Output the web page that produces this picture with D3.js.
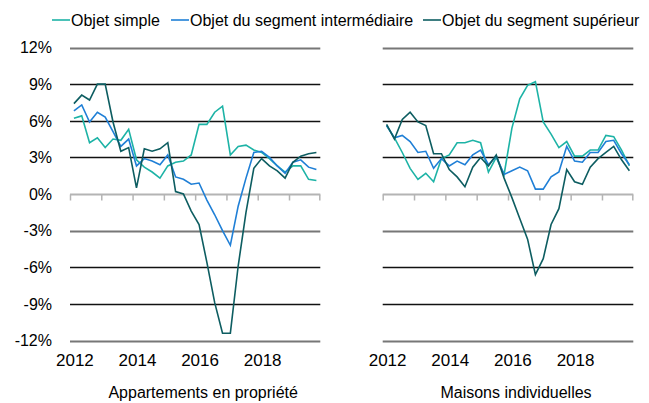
<!DOCTYPE html>
<html lang="fr">
<head>
    <meta charset="UTF-8">
    <script src="https://d3js.org/d3.v7.min.js"></script>
    <style>
        body {
            margin: 0;
            background: #ffffff;
            font-family: "Liberation Sans", Arial, sans-serif;
        }
        svg text {
            fill: #000;
        }
    </style>
</head>
<body>
    <svg width="649" height="403"></svg>

    <script>
        // donnees trimestrielles 2012 T1 - 2019 T4
        const quarters = d3.range(32);
        const yearLabels = ["2012", "2014", "2016", "2018"];
        const yTicks = [12, 9, 6, 3, 0, -3, -6, -9, -12];

        const seriesNames = ["Objet simple", "Objet du segment intermédiaire", "Objet du segment supérieur"];
        const panelTitles = ["Appartements en propriété", "Maisons individuelles"];

        const aptSimple = [6.2, 6.4, 4.2, 4.6, 3.8, 4.5, 4.4, 5.3, 2.8, 2.2, 1.8, 1.3, 2.3, 2.6, 2.7, 3.2,
                           5.7, 5.7, 6.7, 7.2, 3.2, 3.9, 4.0, 3.6, 3.4, 2.9, 2.3, 1.8, 2.3, 2.3, 1.2, 1.1];
        const aptMid = [6.8, 7.3, 5.9, 6.7, 6.3, 5.1, 3.9, 4.5, 2.3, 2.9, 2.7, 2.4, 3.2, 1.4, 1.2, 0.8,
                        0.9, -0.5, -1.7, -3.0, -4.2, -1.0, 1.3, 3.4, 3.5, 3.0, 2.3, 1.7, 2.6, 2.8, 2.2, 2.0];
        const aptHigh = [7.4, 8.1, 7.7, 9.0, 9.0, 5.9, 3.5, 3.8, 0.5, 3.7, 3.5, 3.7, 4.2, 0.2, 0.0, -1.4,
                         -2.5, -5.6, -8.9, -11.4, -11.4, -5.9, -1.5, 2.1, 2.9, 2.3, 1.9, 1.3, 2.6, 3.1, 3.3, 3.4];

        const houseSimple = [5.6, 4.6, 3.4, 2.1, 1.2, 1.7, 1.0, 2.9, 3.2, 4.2, 4.2, 4.4, 4.2, 1.8, 3.0, 1.6,
                             5.4, 7.8, 8.9, 9.2, 5.9, 4.9, 3.8, 4.3, 3.1, 3.1, 3.6, 3.6, 4.8, 4.7, 3.6, 2.3];
        const houseMid = [5.6, 4.6, 4.8, 4.3, 3.4, 3.5, 2.1, 2.9, 2.3, 2.7, 2.4, 3.2, 3.6, 2.4, 3.1, 1.6,
                          1.9, 2.2, 1.9, 0.4, 0.4, 1.4, 1.8, 3.9, 2.7, 2.6, 3.4, 3.4, 4.3, 4.4, 3.3, 2.4];
        const houseHigh = [5.7, 4.5, 6.1, 6.7, 5.9, 5.6, 3.3, 3.3, 2.0, 1.4, 0.6, 2.2, 3.0, 2.3, 3.2, 1.3,
                           -0.3, -2.0, -3.7, -6.6, -5.3, -2.5, -1.2, 2.0, 1.0, 0.8, 2.2, 2.9, 3.4, 3.9, 2.8, 1.9];

        const colors = ["#1db3a6", "#1f7fd6", "#0d5d61"];

        const svg = d3.select("svg");

        const y = d3.scaleLinear()
            .domain([-12, 12])
            .range([340.5, 47.5]);

        const panels = [
            { left: 70, right: 320.3, title: panelTitles[0], data: [aptSimple, aptMid, aptHigh] },
            { left: 382.7, right: 633.3, title: panelTitles[1], data: [houseSimple, houseMid, houseHigh] }
        ];

        panels.forEach((p, pi) => {
            const x = d3.scaleBand()
                .domain(quarters)
                .range([p.left, p.right])
                .padding(0);
            const cx = i => x(i) + x.bandwidth() / 2;

            const g = svg.append("g");

            // lignes de grille
            g.selectAll("line.grid")
                .data(yTicks.filter(d => d !== 0))
                .enter()
                .append("line")
                .attr("x1", p.left)
                .attr("x2", p.right)
                .attr("y1", d => Math.round(y(d)) + 0.5)
                .attr("y2", d => Math.round(y(d)) + 0.5)
                .attr("stroke", d => (Math.abs(d) === 12 || d === -3) ? "#777" : "#111")
                .attr("stroke-width", d => (Math.abs(d) === 12 || d === -3) ? 2 : 1.5);

            // axe du zero avec graduations annuelles
            const y0 = Math.round(y(0)) + 0.5;
            g.append("line")
                .attr("x1", p.left)
                .attr("x2", p.right)
                .attr("y1", y0)
                .attr("y2", y0)
                .attr("stroke", "#b4b4b4")
                .attr("stroke-width", 2);

            g.selectAll("line.tick")
                .data(d3.range(0, 33, 4))
                .enter()
                .append("line")
                .attr("x1", i => i === 32 ? p.right - 0.5 : x(i) + 0.5)
                .attr("x2", i => i === 32 ? p.right - 0.5 : x(i) + 0.5)
                .attr("y1", y0)
                .attr("y2", y0 + 6)
                .attr("stroke", "#b4b4b4")
                .attr("stroke-width", 1.5);

            // series
            const line = d3.line()
                .x((d, i) => cx(i))
                .y(d => y(d));

            g.selectAll("path.series")
                .data(p.data)
                .enter()
                .append("path")
                .attr("d", d => line(d))
                .attr("fill", "none")
                .attr("stroke", (d, i) => colors[i])
                .attr("stroke-width", 1.6)
                .attr("stroke-linejoin", "miter");

            // libelles des annees
            g.selectAll("text.year")
                .data(yearLabels)
                .enter()
                .append("text")
                .attr("x", (d, i) => cx(i * 8) + 1)
                .attr("y", 366)
                .attr("text-anchor", "middle")
                .style("font-size", "17px")
                .text(d => d);

            g.append("text")
                .attr("x", (p.left + p.right) / 2 + 8)
                .attr("y", 398)
                .attr("text-anchor", "middle")
                .style("font-size", "16px")
                .text(p.title);

            if (pi === 0) {
                g.selectAll("text.ylab")
                    .data(yTicks)
                    .enter()
                    .append("text")
                    .attr("x", 52)
                    .attr("y", d => y(d))
                    .attr("dy", "0.36em")
                    .attr("text-anchor", "end")
                    .style("font-size", "16px")
                    .text(d => d + "%");
            }
        });

        // legende
        const legendX = [52, 171, 423];
        const legend = svg.selectAll("g.legend")
            .data(seriesNames)
            .enter()
            .append("g")
            .attr("transform", (d, i) => `translate(${legendX[i]},20)`);

        legend.append("line")
            .attr("x1", 0)
            .attr("x2", 18)
            .attr("y1", 0)
            .attr("y2", 0)
            .attr("stroke", (d, i) => colors[i])
            .attr("stroke-width", 1.6);

        legend.append("text")
            .attr("x", 19)
            .attr("y", 0)
            .attr("dy", "0.36em")
            .style("font-size", "16px")
            .text(d => d);
    </script>
</body>
</html>
